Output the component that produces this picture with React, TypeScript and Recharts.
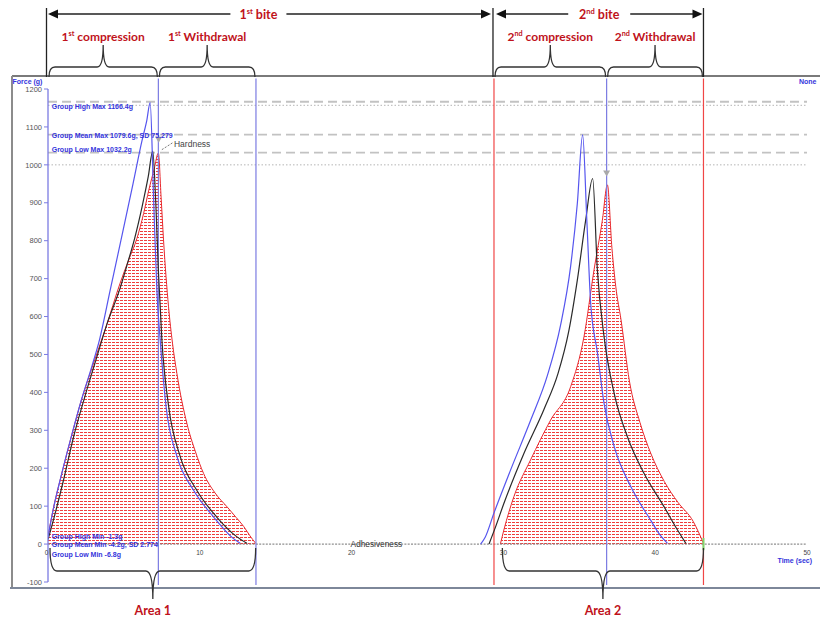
import React from 'react';
import { ComposedChart, Line, Area, XAxis, YAxis, ReferenceLine, ReferenceDot } from 'recharts';

type Pt = [number, number];

// ---------------- data (time in s, force in g) ----------------
const redBite1: Pt[] = [
  [0, 20], [0.33, 90], [0.9, 185], [1.58, 290], [2.2, 380], [2.9, 465], [3.8, 570], [4.75, 688],
  [5.3, 748], [5.85, 805], [6.3, 872], [6.65, 935], [7.0, 990], [7.27, 1031], [7.45, 915], [7.61, 802],
  [7.94, 626], [8.2, 530], [8.49, 450], [9.15, 318], [9.7, 245], [10.25, 186], [11.0, 135], [11.8, 98],
  [12.4, 70], [12.9, 46], [13.3, 22], [13.68, 2],
];
const blackBite1: Pt[] = [
  [0, 12], [0.4, 70], [1.0, 165], [1.7, 285], [2.4, 385], [3.1, 478], [3.9, 582], [4.75, 675],
  [5.2, 735], [5.7, 805], [6.2, 890], [6.6, 968], [6.9, 1036], [7.1, 900], [7.28, 714], [7.5, 540],
  [7.94, 365], [8.7, 232], [9.8, 142], [11.1, 72], [12.45, 19], [13.1, 2],
];
const blueBite1: Pt[] = [
  [0, 18], [0.33, 88], [0.9, 185], [1.58, 290], [2.2, 380], [2.9, 470], [3.4, 540], [4.1, 670],
  [4.8, 800], [5.6, 950], [6.2, 1065], [6.5, 1115], [6.73, 1164], [6.95, 920], [7.17, 670], [7.39, 538],
  [7.78, 362], [8.49, 232], [9.59, 142], [10.9, 72], [12.2, 15], [12.66, 2],
];
const redBite2: Pt[] = [
  [29.8, 0], [30.03, 37], [30.69, 125], [31.79, 222], [33.11, 327], [34.43, 415], [35.31, 547],
  [35.97, 723], [36.52, 854], [36.85, 947], [37.15, 780], [37.4, 680], [37.75, 591], [38.3, 430],
  [39.0, 320], [39.7, 240], [40.6, 165], [41.5, 110], [42.5, 60], [43.18, 2],
];
const blackBite2: Pt[] = [
  [29.05, 0], [29.49, 46], [30.03, 107], [31.35, 239], [32.67, 355], [33.6, 450], [34.3, 560], [34.87, 696],
  [35.42, 854], [35.88, 964], [36.19, 723], [36.63, 547], [37.3, 397], [38.17, 283], [39.27, 186],
  [40.59, 98], [41.47, 37], [42.02, 2],
];
const blueBite2: Pt[] = [
  [28.5, 0], [28.8, 18], [29.37, 81], [30.47, 195], [31.8, 327], [32.9, 445], [33.77, 578],
  [34.43, 733], [34.87, 898], [35.22, 1079], [35.5, 850], [35.75, 635], [36.2, 503], [36.63, 371],
  [37.3, 257], [38.4, 151], [39.7, 63], [40.3, 25], [40.81, 2],
];

const yTicks = [-100, 0, 100, 200, 300, 400, 500, 600, 700, 800, 900, 1000, 1100, 1200];
const xTickLabels = [0, 10, 20, 30, 40, 50];
const X_DOMAIN: [number, number] = [0, 50];
const Y_DOMAIN: [number, number] = [-100, 1200];

const groupMaxValues = [1166.4, 1079.6, 1032.2];
const groupMaxTexts = ['Group High Max 1166.4g', 'Group Mean Max 1079.6g, SD 75.279', 'Group Low Max 1032.2g'];
const dottedLevels = [1157, 1000];
const groupMinTexts = ['Group High Min -1.3g', 'Group Mean Min -4.2g, SD 2.774', 'Group Low Min -6.8g'];

// phase boundaries (s)
const compEnd1 = 7.27;
const withEnd1 = 13.7;
const biteStart2 = 29.38;
const compEnd2 = 36.8;
const withEnd2 = 43.18;
const areaSpans: Pt[] = [[0, 13.68], [29.8, 43.18]];
const hardnessMarks: Pt[] = [[7.29, 1066], [36.8, 977]];

// ---------------- layout / style ----------------
const W = 820;
const H = 620;
const PLOT = { left: 48, right: 807, top: 89, bottom: 582 };
const Y_AXIS_W = 30;
const C = {
  red: '#e8292e',
  black: '#2a2a2a',
  blue: '#5555ee',
  axisBlue: '#7b7be2',
  textBlue: '#3434dc',
  annRed: '#c0121b',
  dash: '#c2c2c2',
  frame: '#7a7a7a',
};
const SANS = "'Liberation Sans', Arial, sans-serif";
const TITLE = "Lato, 'Open Sans', sans-serif";

const xPx = (t: number) => PLOT.left + ((t - X_DOMAIN[0]) / (X_DOMAIN[1] - X_DOMAIN[0])) * (PLOT.right - PLOT.left);

// merged table built from the series arrays
const seriesMap: Record<string, Pt[]> = {
  red1: redBite1, black1: blackBite1, blue1: blueBite1,
  red2: redBite2, black2: blackBite2, blue2: blueBite2,
};
const rowMap = new Map<number, any>();
Object.entries(seriesMap).forEach(([key, pts]) => {
  pts.forEach(([t, f]) => {
    const row = rowMap.get(t) || { t };
    row[key] = f;
    rowMap.set(t, row);
  });
});
const chartData = Array.from(rowMap.values()).sort((a, b) => a.t - b.t);

const textAt = (txt: string, dx: number, dy: number, opts: any = {}) => (p: any) => (
  <text
    x={p.cx + dx}
    y={p.cy + dy}
    fontFamily={SANS}
    fontSize={opts.size || 7}
    fontWeight={opts.weight || 400}
    fill={opts.fill || '#444'}
    textAnchor={opts.anchor || 'start'}
  >
    {txt}
  </text>
);

const triangle = (p: any) => (
  <path d={`M${p.cx - 3.5},${p.cy - 3} L${p.cx + 3.5},${p.cy - 3} L${p.cx},${p.cy + 3} Z`} fill="#a9a9a9" />
);

function brace(x1: number, x2: number, yEnd: number, yBar: number, yTip: number, r = 6) {
  const xm = (x1 + x2) / 2;
  return `M${x1},${yEnd} Q${x1},${yBar} ${x1 + r},${yBar} L${xm - r},${yBar} Q${xm},${yBar} ${xm},${yTip} Q${xm},${yBar} ${xm + r},${yBar} L${x2 - r},${yBar} Q${x2},${yBar} ${x2},${yEnd}`;
}

function Ordinal({ x, y, num, sup, rest, size = 12 }: any) {
  return (
    <text x={x} y={y} textAnchor="middle" fontFamily={TITLE} fontWeight={700} fontSize={size} fill={C.annRed}>
      {num}
      <tspan fontSize={size * 0.6} dy={-size * 0.4}>{sup}</tspan>
      <tspan dy={size * 0.4}>{rest}</tspan>
    </text>
  );
}

const arrow = (x: number, y: number, dir: number) =>
  `M${x},${y} L${x - dir * 10},${y - 4.5} L${x - dir * 10},${y + 4.5} Z`;

const phaseTitles = [
  { num: '1', sup: 'st', rest: ' compression', from: 0, to: compEnd1 },
  { num: '1', sup: 'st', rest: ' Withdrawal', from: compEnd1, to: withEnd1 },
  { num: '2', sup: 'nd', rest: ' compression', from: biteStart2, to: compEnd2 },
  { num: '2', sup: 'nd', rest: ' Withdrawal', from: compEnd2, to: withEnd2 },
];
const bites = [
  { num: '1', sup: 'st', from: 0, to: biteStart2 },
  { num: '2', sup: 'nd', from: biteStart2, to: withEnd2 },
];
const biteTextFrac = [0.475, 0.5];
const biteGap = [28, 31];

function Overlay() {
  const yArrow = 14;
  return (
    <svg width={W} height={H} style={{ position: 'absolute', left: 0, top: 0, pointerEvents: 'none' }}>
      {/* frame */}
      <path d={`M12,76 H${W}`} stroke={C.frame} strokeWidth={2} />
      <path d="M12,76 V588" stroke="#8c8c8c" strokeWidth={2} />
      <path d={`M10,588 H${W}`} stroke="#7d8799" strokeWidth={2} />
      <text x={12.5} y={84} fontFamily={SANS} fontSize={7} fontWeight={700} fill={C.textBlue}>Force (g)</text>
      <text x={799} y={84} fontFamily={SANS} fontSize={7} fontWeight={700} fill={C.textBlue}>None</text>

      {/* bite arrows */}
      {[xPx(0) - 1.5, xPx(biteStart2) - 1, xPx(withEnd2)].map((x, i) => (
        <path key={'bv' + i} d={`M${x},8 V77`} stroke="#222" strokeWidth={1.3} />
      ))}
      {bites.map((b, i) => {
        const a = xPx(b.from) + (i === 0 ? 0 : 2);
        const z = xPx(b.to) - (i === 0 ? 3 : 1);
        const c = a + (z - a) * biteTextFrac[i];
        return (
          <g key={'bite' + i}>
            <path d={`M${a + 8},${yArrow} H${c - biteGap[i]} M${c + biteGap[i]},${yArrow} H${z - 8}`} stroke="#222" strokeWidth={1.3} />
            <path d={arrow(a, yArrow, -1)} fill="#111" />
            <path d={arrow(z, yArrow, 1)} fill="#111" />
            <Ordinal x={c} y={19} num={b.num} sup={b.sup} rest=" bite" size={12.5} />
          </g>
        );
      })}

      {/* phase braces */}
      {phaseTitles.map((p, i) => {
        const x1 = xPx(p.from) + 1;
        const x2 = xPx(p.to) - 1;
        return (
          <g key={'ph' + i}>
            <path d={brace(x1, x2, 77, 67, 45)} stroke="#333" strokeWidth={1.3} fill="none" />
            <Ordinal x={(x1 + x2) / 2} y={41} num={p.num} sup={p.sup} rest={p.rest} size={12} />
          </g>
        );
      })}

      {/* area braces */}
      {areaSpans.map(([a, b], i) => {
        const x1 = xPx(a) + 2;
        const x2 = xPx(b);
        return (
          <g key={'ar' + i}>
            <path d={brace(x1, x2, 548, 571, 599, 7)} stroke="#333" strokeWidth={1.3} fill="none" />
            <text x={(x1 + x2) / 2} y={615} textAnchor="middle" fontFamily={TITLE} fontWeight={700} fontSize={12.5} fill={C.annRed}>
              {'Area ' + (i + 1)}
            </text>
          </g>
        );
      })}
    </svg>
  );
}

const phaseLines = [
  { t: compEnd1, color: C.axisBlue },
  { t: withEnd1, color: C.axisBlue },
  { t: biteStart2, color: '#f04646' },
  { t: compEnd2, color: C.axisBlue },
  { t: withEnd2, color: '#f04646' },
];

export default function App() {
  return (
    <div style={{ position: 'absolute', left: 0, top: 0, width: W, height: H, background: '#fff' }}>
      <ComposedChart
        width={W}
        height={H}
        data={chartData}
        margin={{ top: PLOT.top, right: W - PLOT.right, bottom: H - PLOT.bottom, left: PLOT.left - Y_AXIS_W }}
      >
        <defs>
          <pattern id="hatch" patternUnits="userSpaceOnUse" width="4" height="3">
            <rect x="0" y="0" width="3" height="1" fill="#ee3c3c" />
          </pattern>
        </defs>
        <XAxis type="number" dataKey="t" domain={X_DOMAIN} hide allowDataOverflow />
        <YAxis
          type="number"
          domain={Y_DOMAIN}
          ticks={yTicks}
          interval={0}
          width={Y_AXIS_W}
          tickSize={4}
          tick={{ fontSize: 7.5, fill: '#555', fontFamily: SANS }}
          axisLine={{ stroke: C.axisBlue, strokeWidth: 1.3 }}
          tickLine={{ stroke: C.axisBlue }}
          allowDataOverflow
        />

        {groupMaxValues.map((v) => (
          <ReferenceLine key={'gm' + v} y={v} stroke={C.dash} strokeWidth={1.8} strokeDasharray="9 5" />
        ))}
        {dottedLevels.map((v) => (
          <ReferenceLine key={'dl' + v} y={v} stroke="#b4b4b4" strokeWidth={1} strokeDasharray="1.5 2" />
        ))}
        <ReferenceLine y={0} stroke="#8f8f8f" strokeWidth={1.3} strokeDasharray="2 1.3" />

        {phaseLines.map((p) => (
          <ReferenceLine
            key={'pl' + p.t}
            segment={[{ x: p.t, y: -108 }, { x: p.t, y: 1228 }]}
            stroke={p.color}
            strokeWidth={1.2}
            ifOverflow="visible"
          />
        ))}

        <Area type="monotone" dataKey="red1" stroke={C.red} strokeWidth={1} fill="url(#hatch)" fillOpacity={1}
          baseValue={0} connectNulls dot={false} activeDot={false} isAnimationActive={false} />
        <Area type="monotone" dataKey="red2" stroke={C.red} strokeWidth={1} fill="url(#hatch)" fillOpacity={1}
          baseValue={0} connectNulls dot={false} activeDot={false} isAnimationActive={false} />
        <Line type="monotone" dataKey="black1" stroke={C.black} strokeWidth={1.2} dot={false} activeDot={false} connectNulls isAnimationActive={false} />
        <Line type="monotone" dataKey="black2" stroke={C.black} strokeWidth={1.2} dot={false} activeDot={false} connectNulls isAnimationActive={false} />
        <Line type="monotone" dataKey="blue1" stroke={C.blue} strokeWidth={1.2} dot={false} activeDot={false} connectNulls isAnimationActive={false} />
        <Line type="monotone" dataKey="blue2" stroke={C.blue} strokeWidth={1.2} dot={false} activeDot={false} connectNulls isAnimationActive={false} />

        <ReferenceLine
          segment={[{ x: 7.5, y: 1040 }, { x: 8.2, y: 1058 }]}
          stroke="#777"
          strokeDasharray="2 1.5"
          ifOverflow="visible"
        />
        {hardnessMarks.map(([t, f]) => (
          <ReferenceDot key={'hm' + t} x={t} y={f} ifOverflow="visible" shape={triangle} />
        ))}
        <ReferenceDot x={8.3} y={1047} ifOverflow="visible" shape={textAt('Hardness', 0, 0, { size: 8.5, fill: '#444' })} />
        <ReferenceDot x={20} y={0} ifOverflow="visible" shape={textAt('Adhesiveness', -1, 3, { size: 8.3, fill: '#333' })} />

        {groupMaxValues.map((v, i) => (
          <ReferenceDot key={'gmt' + i} x={0} y={v} ifOverflow="visible"
            shape={textAt(groupMaxTexts[i], 3.7, [7.6, 3.1, -0.9][i], { weight: 700, fill: C.textBlue })} />
        ))}
        {groupMinTexts.map((txt, i) => (
          <ReferenceDot key={'gmin' + i} x={0} y={0} ifOverflow="visible"
            shape={textAt(txt, 3.7, [-5.5, 2.5, 12.5][i], { weight: 700, fill: C.textBlue })} />
        ))}
        {xTickLabels.map((v) => (
          <ReferenceDot key={'xt' + v} x={v} y={0} ifOverflow="visible"
            shape={textAt(String(v), v === 0 ? -1.5 : 0, 11, { size: 6.5, fill: '#444', anchor: 'middle' })} />
        ))}
        <ReferenceDot x={50} y={0} ifOverflow="visible"
          shape={textAt('Time (sec)', 5, 19, { weight: 700, fill: C.textBlue, anchor: 'end' })} />
        <ReferenceLine segment={[{ x: withEnd2, y: -16 }, { x: withEnd2, y: 16 }]} stroke="#7fd66a" strokeWidth={2} ifOverflow="visible" />
      </ComposedChart>
      <Overlay />
    </div>
  );
}
